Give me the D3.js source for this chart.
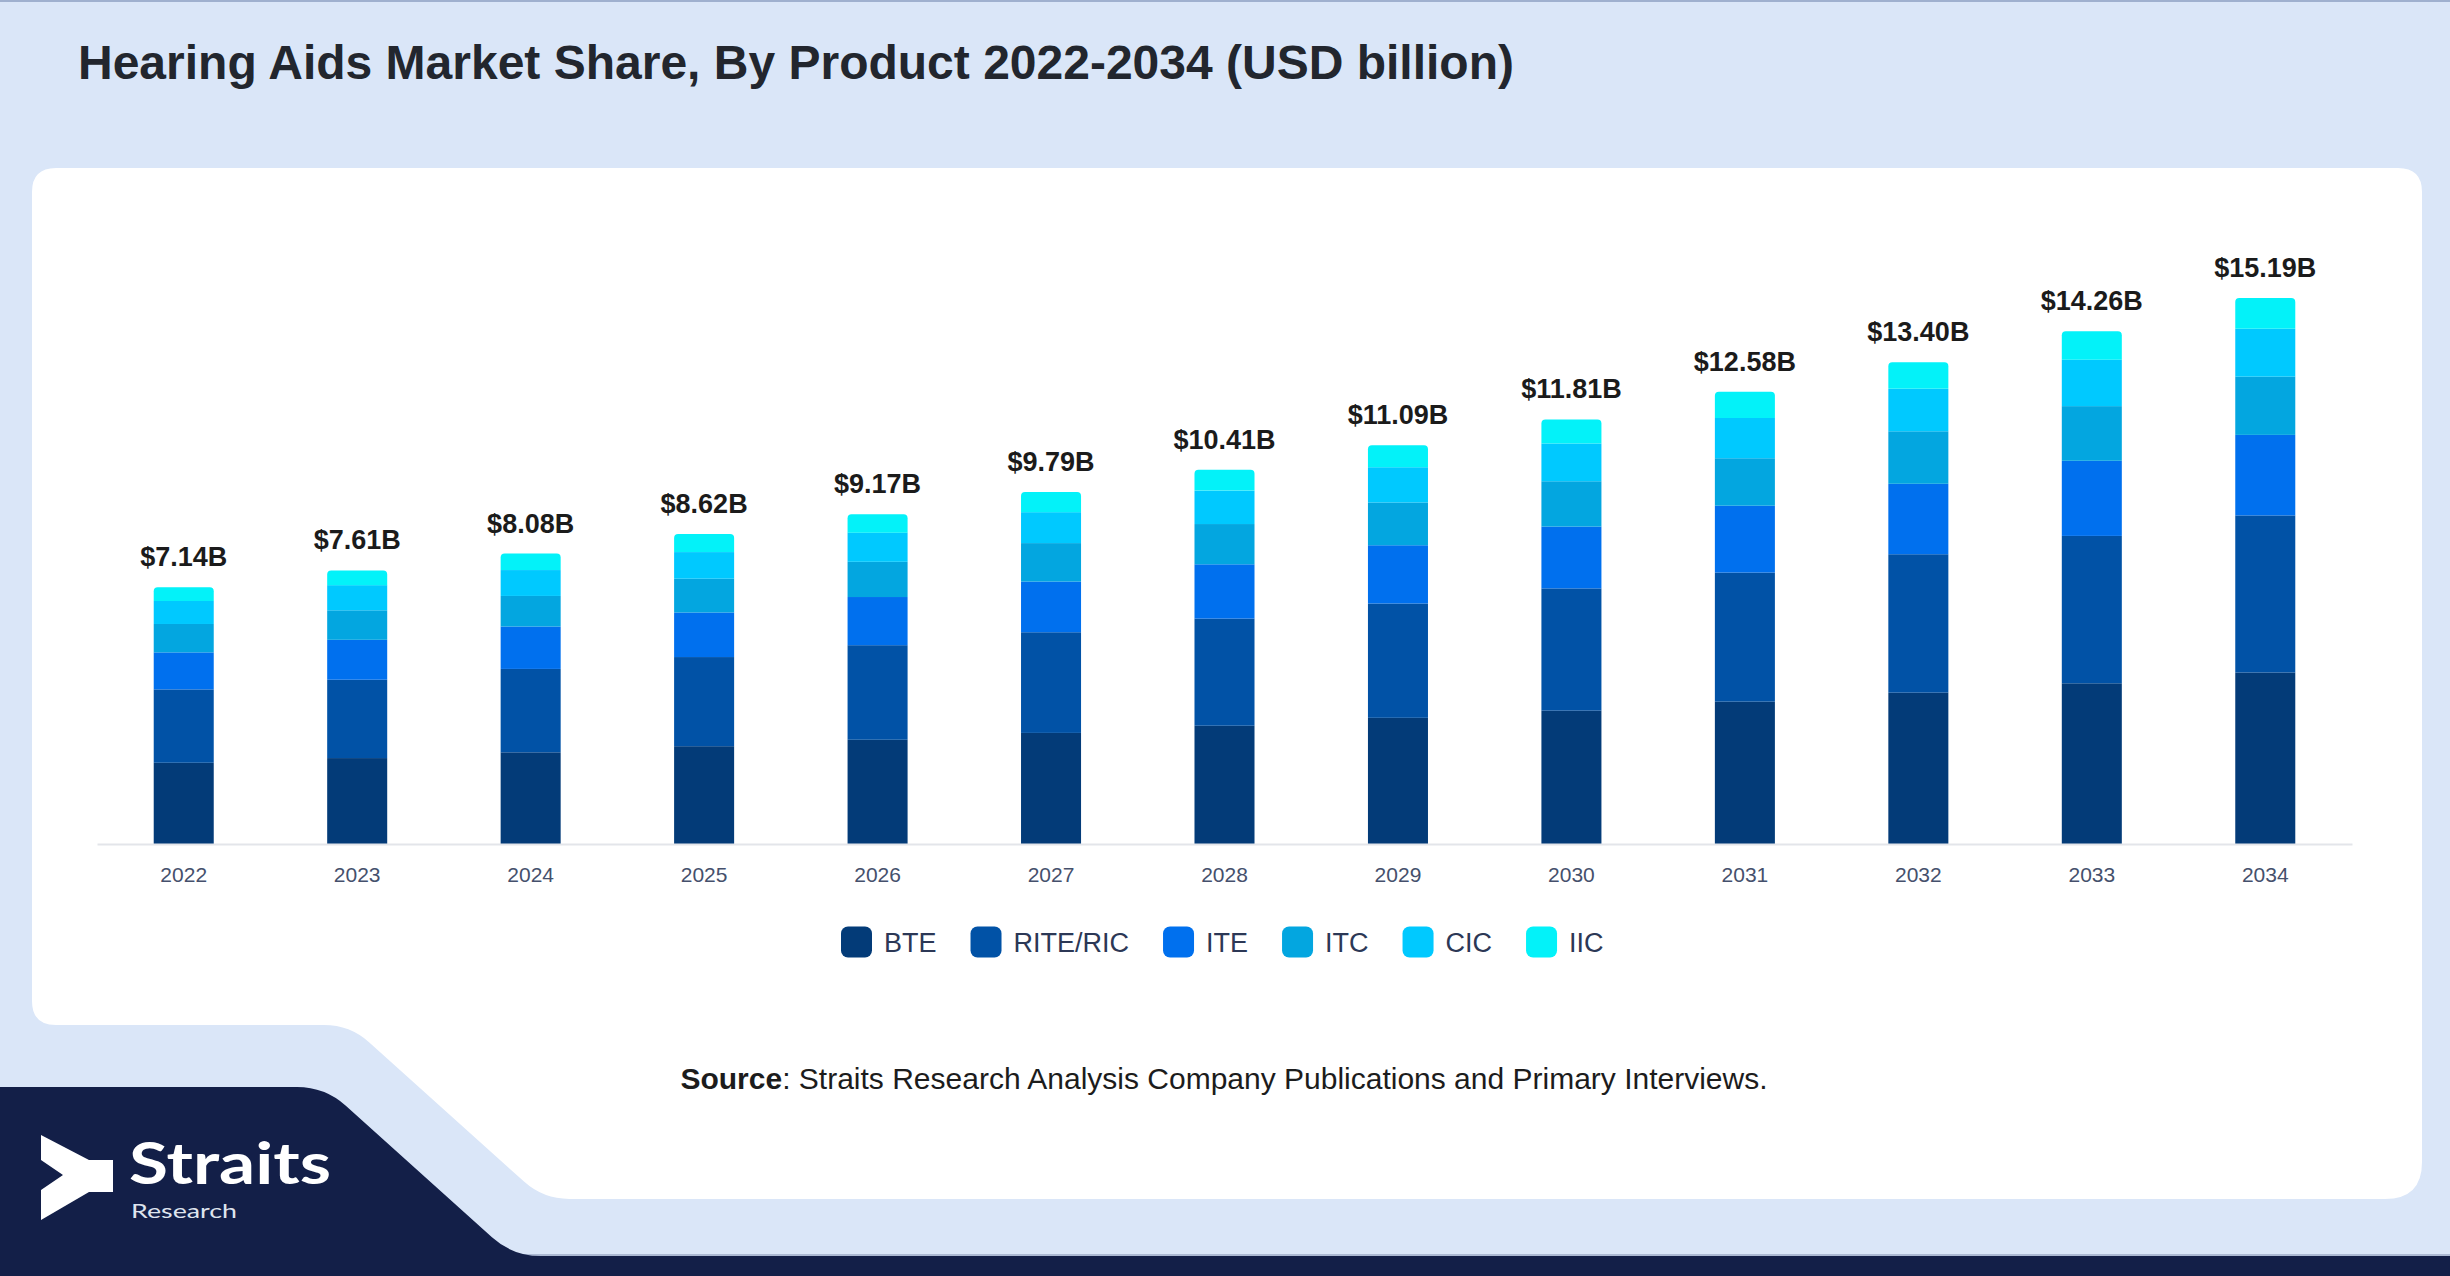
<!DOCTYPE html>
<html>
<head>
<meta charset="utf-8">
<script src="https://cdn.jsdelivr.net/npm/d3@7"></script>
<style>
  html, body { margin: 0; padding: 0; background: #dae6f8; }
  svg { display: block; }
</style>
</head>
<body>
<svg id="chart" width="2450" height="1276"></svg>
<script>
// ---------- data ----------
const years  = ["2022","2023","2024","2025","2026","2027","2028","2029","2030","2031","2032","2033","2034"];
const totals = [7.14, 7.61, 8.08, 8.62, 9.17, 9.79, 10.41, 11.09, 11.81, 12.58, 13.40, 14.26, 15.19];
const seriesNames = ["BTE", "RITE/RIC", "ITE", "ITC", "CIC", "IIC"];
const bte  = [2.26, 2.39, 2.55, 2.72, 2.90, 3.09, 3.29, 3.51, 3.71, 3.96, 4.21, 4.47, 4.77];
const rite = [2.04, 2.18, 2.32, 2.48, 2.63, 2.80, 2.98, 3.18, 3.40, 3.59, 3.85, 4.10, 4.37];
const ite  = [1.03, 1.11, 1.18, 1.24, 1.34, 1.41, 1.51, 1.62, 1.72, 1.86, 1.96, 2.09, 2.24];
const itc  = [0.79, 0.82, 0.85, 0.94, 0.98, 1.07, 1.12, 1.19, 1.26, 1.32, 1.46, 1.52, 1.62];
const cic  = [0.64, 0.70, 0.72, 0.74, 0.81, 0.86, 0.93, 0.98, 1.05, 1.12, 1.18, 1.29, 1.33];
const iic  = [0.38, 0.41, 0.46, 0.50, 0.51, 0.56, 0.58, 0.61, 0.67, 0.73, 0.74, 0.79, 0.86];
const colors = ["#033b78", "#0152a6", "#0070ee", "#03a6e0", "#00c9ff", "#03f2f9"];

const title = "Hearing Aids Market Share, By Product 2022-2034 (USD billion)";

// ---------- build table ----------
const seriesValues = [bte, rite, ite, itc, cic, iic];
const table = years.map((y, i) => {
  const row = { year: y };
  seriesNames.forEach((s, k) => row[s] = seriesValues[k][i]);
  return row;
});

const svg = d3.select("#chart");
const W = 2450, H = 1276;
const FONT = "'Liberation Sans', Arial, Helvetica, sans-serif";

// ---------- background ----------
svg.append("rect").attr("width", W).attr("height", H).attr("fill", "#dae6f8");
svg.append("rect").attr("x", 0).attr("y", 0).attr("width", W).attr("height", 2).attr("fill", "#9fb0cf");

// white card with notch at bottom-left
function cornerPath() {
  const top = 168, left = 32, right = 2422, bottom = 1199, rT = 24, rBR = 37;
  const A = [350, 1025];
  const slope = 0.9;
  const B = [A[0] + (bottom - A[1]) / slope, bottom];
  const len = Math.hypot(B[0] - A[0], B[1] - A[1]);
  const dir = [(A[0] - B[0]) / len, (A[1] - B[1]) / len];
  const c = 26;
  const p = d3.path();
  p.moveTo(left + rT, top);
  p.lineTo(right - rT, top);
  p.quadraticCurveTo(right, top, right, top + rT);
  p.lineTo(right, bottom - rBR);
  p.quadraticCurveTo(right, bottom, right - rBR, bottom);
  p.lineTo(B[0] + c, bottom);
  p.quadraticCurveTo(B[0], B[1], B[0] + dir[0] * c, B[1] + dir[1] * c);
  p.lineTo(A[0] - dir[0] * c, A[1] - dir[1] * c);
  p.quadraticCurveTo(A[0], A[1], A[0] - c, A[1]);
  p.lineTo(left + rT, A[1]);
  p.quadraticCurveTo(left, A[1], left, A[1] - rT);
  p.lineTo(left, top + rT);
  p.quadraticCurveTo(left, top, left + rT, top);
  p.closePath();
  return p.toString();
}
svg.append("path").attr("d", cornerPath()).attr("fill", "#ffffff");

// navy footer shape
function navyPath() {
  const C = [325, 1087];
  const yB = 1256;
  const slope = 0.9;
  const D = [C[0] + (yB - C[1]) / slope, yB];
  const len = Math.hypot(D[0] - C[0], D[1] - C[1]);
  const dir = [(D[0] - C[0]) / len, (D[1] - C[1]) / len];
  const c = 28;
  const p = d3.path();
  p.moveTo(0, C[1]);
  p.lineTo(C[0] - c, C[1]);
  p.quadraticCurveTo(C[0], C[1], C[0] + dir[0] * c, C[1] + dir[1] * c);
  p.lineTo(D[0] - dir[0] * c, D[1] - dir[1] * c);
  p.quadraticCurveTo(D[0], D[1], D[0] + c, D[1]);
  p.lineTo(W, yB);
  p.lineTo(W, H);
  p.lineTo(0, H);
  p.closePath();
  return p.toString();
}
svg.append("rect").attr("x", 0).attr("y", 1254).attr("width", W).attr("height", 4).attr("fill", "#8d9bbb").attr("opacity", 0.6);
svg.append("path").attr("d", navyPath()).attr("fill", "#131f48");

// logo
const logo = svg.append("g");
logo.append("polygon")
  .attr("points", [[41,1135],[89,1160],[113,1160],[113,1192],[89,1192],[41,1220],[41,1190],[63,1175],[41,1160]].map(d => d.join(",")).join(" "))
  .attr("fill", "#ffffff");
logo.append("text").attr("x", 129).attr("y", 1184)
  .attr("font-family", "Lato, 'Open Sans', sans-serif").attr("font-weight", 700)
  .attr("font-size", 58).attr("fill", "#ffffff")
  .attr("textLength", 202).attr("lengthAdjust", "spacingAndGlyphs")
  .text("Straits");
logo.append("text").attr("x", 131).attr("y", 1218)
  .attr("font-family", "Lato, 'Open Sans', sans-serif").attr("font-weight", 400)
  .attr("font-size", 20).attr("fill", "#dfe4ee")
  .attr("textLength", 106).attr("lengthAdjust", "spacingAndGlyphs")
  .text("Research");

// ---------- title ----------
svg.append("text").attr("x", 78).attr("y", 79)
  .attr("font-family", FONT).attr("font-weight", 700).attr("font-size", 48)
  .attr("fill", "#22262e").text(title);

// ---------- scales ----------
const x = d3.scaleBand().domain(years).range([97, 2352]).paddingInner(0.654).paddingOuter(0.327);
const y = d3.scaleLinear().domain([0, 16]).range([844, 844 - 16 * 35.95]);

const stack = d3.stack().keys(seriesNames);
const stacked = stack(table);

const gBars = svg.append("g");
stacked.forEach((layer, k) => {
  const isTop = k === stacked.length - 1;
  const g = gBars.append("g").attr("fill", colors[k]);
  if (!isTop) {
    g.selectAll("rect").data(layer).join("rect")
      .attr("x", d => x(d.data.year))
      .attr("y", d => y(d[1]))
      .attr("width", x.bandwidth())
      .attr("height", d => y(d[0]) - y(d[1]));
  } else {
    g.selectAll("path").data(layer).join("path")
      .attr("d", d => {
        const x0 = x(d.data.year), x1 = x0 + x.bandwidth();
        const yt = y(d[1]), yb = y(d[0]), r = 4;
        const p = d3.path();
        p.moveTo(x0, yb);
        p.lineTo(x0, yt + r);
        p.quadraticCurveTo(x0, yt, x0 + r, yt);
        p.lineTo(x1 - r, yt);
        p.quadraticCurveTo(x1, yt, x1, yt + r);
        p.lineTo(x1, yb);
        p.closePath();
        return p.toString();
      });
  }
});

// value labels
svg.append("g").selectAll("text").data(years).join("text")
  .attr("x", d => x(d) + x.bandwidth() / 2)
  .attr("y", (d, i) => y(totals[i]) - 21)
  .attr("text-anchor", "middle")
  .attr("font-family", FONT).attr("font-weight", 700).attr("font-size", 27)
  .attr("fill", "#1b1b1b")
  .text((d, i) => "$" + totals[i].toFixed(2) + "B");

// x axis
const axis = svg.append("g").attr("transform", "translate(0,844)")
  .call(d3.axisBottom(x).tickSize(0).tickPadding(23));
axis.select(".domain").attr("stroke", "#e3e5ea").attr("stroke-width", 2);
axis.selectAll("text").attr("font-family", FONT).attr("font-size", 21).attr("fill", "#45506c");

// ---------- legend ----------
const legend = svg.append("g");
let lx = 841;
const ly = 942;
seriesNames.forEach((s, k) => {
  legend.append("rect").attr("x", lx).attr("y", ly - 15.5).attr("width", 31).attr("height", 31)
    .attr("rx", 7).attr("fill", colors[k]);
  const t = legend.append("text").attr("x", lx + 31 + 12).attr("y", ly + 9.5)
    .attr("font-family", FONT).attr("font-size", 27).attr("fill", "#2c3856").text(s);
  lx += 31 + 12 + t.node().getComputedTextLength() + 34;
});

// ---------- source ----------
const src = svg.append("text").attr("x", 1224).attr("y", 1089).attr("text-anchor", "middle")
  .attr("font-family", FONT).attr("font-size", 30).attr("fill", "#1c1c1c");
src.append("tspan").attr("font-weight", 700).text("Source");
src.append("tspan").text(": Straits Research Analysis Company Publications and Primary Interviews.");
</script>
</body>
</html>
